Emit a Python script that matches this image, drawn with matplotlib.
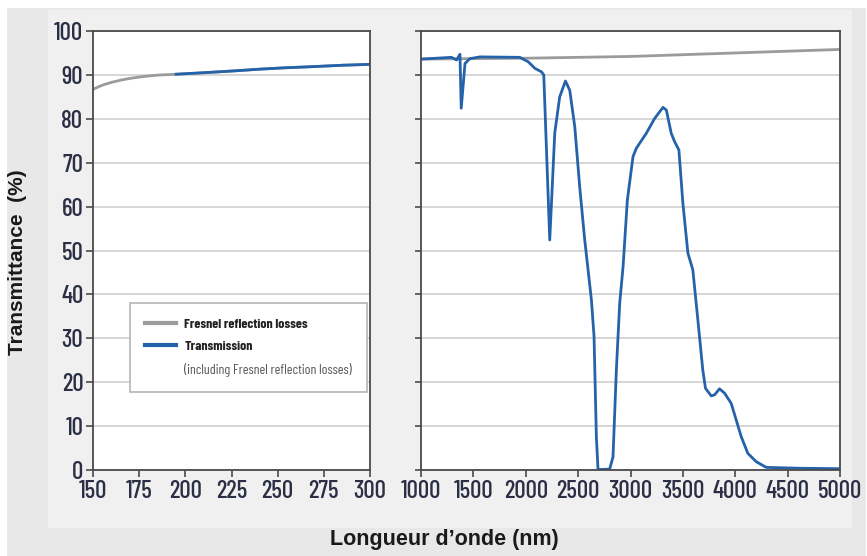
import matplotlib
matplotlib.use("Agg")
import matplotlib.pyplot as plt
from matplotlib.lines import Line2D
from matplotlib.patches import Rectangle

# UV range (nm) and transmittance (%)
uv_fresnel_wl = [150, 153, 156, 160, 165, 170, 175, 180, 185, 190, 195, 210, 226, 240, 253, 270, 285, 300]
uv_fresnel_t = [86.7, 87.3, 87.8, 88.3, 88.8, 89.2, 89.5, 89.75, 89.95, 90.05, 90.15, 90.5, 90.9, 91.3, 91.6, 91.9, 92.2, 92.4]
uv_trans_wl = [195, 210, 226, 240, 253, 270, 285, 300]
uv_trans_t = [90.15, 90.5, 90.9, 91.3, 91.6, 91.9, 92.2, 92.4]

# IR range (nm) and transmittance (%)
ir_fresnel_wl = [1000, 2000, 3000, 4000, 5000]
ir_fresnel_t = [93.6, 93.8, 94.2, 95.0, 95.8]
ir_trans_wl = [1000, 1290, 1340, 1372, 1384, 1420, 1467, 1562, 1943, 2023, 2087, 2150, 2172,
               2229, 2277, 2324, 2379, 2420, 2468, 2515, 2563, 2595, 2627, 2652, 2674, 2690,
               2801, 2833, 2865, 2897, 2929, 2970, 3024, 3056, 3151, 3231, 3310, 3342, 3389,
               3421, 3462, 3500, 3548, 3595, 3643, 3690, 3716, 3770, 3802, 3850, 3898, 3961,
               4009, 4057, 4120, 4200, 4295, 4613, 5000]
ir_trans_t = [93.6, 94.0, 93.4, 94.7, 82.4, 92.6, 93.7, 94.1, 94.0, 93.0, 91.5, 90.7, 90.0,
              52.4, 76.8, 85.0, 88.6, 86.5, 78.2, 64.5, 52.4, 45.6, 38.7, 30.4, 7.6, 0.1,
              0.2, 3.0, 22.8, 38.0, 46.3, 61.5, 71.4, 73.3, 76.7, 80.1, 82.6, 82.0, 76.7,
              74.8, 72.9, 60.8, 49.4, 45.6, 34.2, 22.8, 18.6, 16.9, 17.1, 18.5, 17.5, 15.2,
              11.4, 7.6, 3.8, 1.9, 0.6, 0.4, 0.3]

uv_ticks = [150, 175, 200, 225, 250, 275, 300]
ir_ticks = [1000, 1500, 2000, 2500, 3000, 3500, 4000, 4500, 5000]
y_ticks = list(range(0, 101, 10))

W, H = 867, 556
gray = "#9b9b9b"
blue = "#2462aa"
tick_font = ["Barlow Condensed", "DejaVu Sans"]
tick_color = "#2a2f45"

fig = plt.figure(figsize=(W / 100, H / 100), dpi=100)
fig.patch.set_facecolor("white")
# outer gray frame and lighter inner panel
fig.patches.append(Rectangle((7 / W, 0), 859 / W, 1 - 8 / H, transform=fig.transFigure,
                             facecolor="#e8e8e8", edgecolor="none", zorder=-2))
fig.patches.append(Rectangle((48 / W, 1 - 528 / H), 804 / W, 518 / H,
                             transform=fig.transFigure, facecolor="#f0f0f0",
                             edgecolor="none", zorder=-1))

ax1 = fig.add_axes([93 / W, 1 - 470 / H, 277 / W, 439 / H])
ax2 = fig.add_axes([421 / W, 1 - 470 / H, 419 / W, 439 / H])

for ax in (ax1, ax2):
    ax.set_ylim(0, 100)
    ax.set_yticks(y_ticks)
    ax.grid(True, axis="y", color="#cfcfcf", linewidth=1.2)
    ax.set_axisbelow(True)
    for sp in ax.spines.values():
        sp.set_color("#4a4a4a")
        sp.set_linewidth(1.3)
    ax.tick_params(direction="out", length=5, width=1.2, color="#4a4a4a",
                   labelcolor=tick_color, labelsize=18, pad=2)

ax1.plot(uv_fresnel_wl, uv_fresnel_t, color=gray, linewidth=2)
ax1.plot(uv_trans_wl, uv_trans_t, color=blue, linewidth=2)
ax1.set_xlim(150, 300)
ax1.set_xticks(uv_ticks)

ax2.plot(ir_fresnel_wl, ir_fresnel_t, color=gray, linewidth=2)
ax2.plot(ir_trans_wl, ir_trans_t, color=blue, linewidth=2)
ax2.set_xlim(1000, 5000)
ax2.set_xticks(ir_ticks)
ax2.tick_params(axis="y", labelleft=False, length=4)

for ax in (ax1, ax2):
    for lbl in ax.get_xticklabels() + ax.get_yticklabels():
        lbl.set_family(tick_font)
        lbl.set_weight("medium")

handles = [Line2D([], [], color=gray, linewidth=3),
           Line2D([], [], color=blue, linewidth=3),
           Line2D([], [], color="none")]
labels = ["Fresnel reflection losses", "Transmission",
          "(including Fresnel reflection losses)"]
leg = ax1.legend(handles, labels, loc="upper left",
                 bbox_to_anchor=(130 / W, 1 - 303 / H), bbox_transform=fig.transFigure,
                 fancybox=False, framealpha=1, edgecolor="#b5b5b5",
                 handlelength=2.2, handletextpad=0.6, borderpad=1.1,
                 borderaxespad=0, labelspacing=0.75,
                 prop={"family": tick_font, "size": 10})
texts = leg.get_texts()
for t in texts[:2]:
    t.set_weight("bold")
    t.set_color("#222222")
texts[2].set_color("#555555")
leg.get_frame().set_linewidth(1.2)

fig.text(18 / W, 1 - 262 / H, "Transmittance  (%)", rotation=90, ha="center",
         va="center", fontsize=15, fontweight="bold", family="Liberation Sans",
         color="#1a1a1a")
fig.text(444 / W, 1 - 540 / H, "Longueur d\u2019onde (nm)", ha="center",
         va="center", fontsize=15.5, fontweight="bold", family="Liberation Sans",
         color="#1a1a1a")

fig.savefig("out.png", dpi=100, facecolor=fig.get_facecolor())
